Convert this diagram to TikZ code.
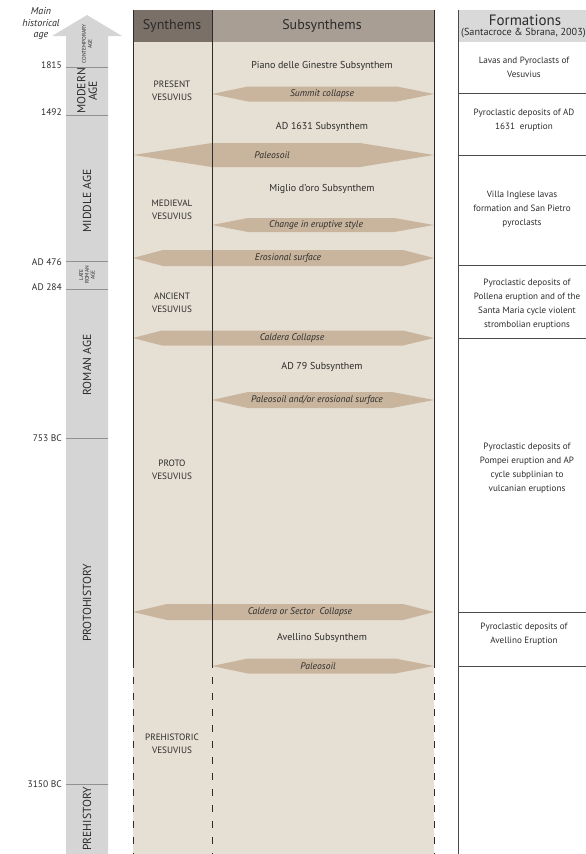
\documentclass[tikz,border=0pt]{standalone}
\usepackage{fontspec}
\setmainfont{PT Sans}
\definecolor{beige}{HTML}{E6DFD3}
\definecolor{bandc}{HTML}{C9B59D}
\definecolor{hsyn}{HTML}{7B7067}
\definecolor{hsub}{HTML}{A89E93}
\definecolor{hform}{HTML}{D9D9D9}
\definecolor{agebar}{HTML}{D5D5D5}
\definecolor{ageline}{HTML}{909090}
\definecolor{ink}{HTML}{2B2B2B}
\newcommand\vband[9]{%
  \fill[bandc] (#3,#1) -- (#4,#1-#2) -- (#5,#1-#2) -- (#6,#1) -- (#5,#1+#2) -- (#4,#1+#2) -- cycle;
  \node[bandtxt] (#9) at (#8,#1) {#7};}
\begin{document}
\begin{tikzpicture}[x=1pt,y=-1pt,
  bandtxt/.style={font=\fontsize{9.6}{10}\selectfont\itshape, text=ink, inner sep=0pt},
  subtxt/.style={font=\fontsize{10}{11}\selectfont, text=ink, inner sep=0pt},
  syntxt/.style={font=\fontsize{9.2}{12.5}\selectfont, text=ink, align=center, inner sep=0pt},
  formtxt/.style={font=\fontsize{9.1}{14}\selectfont, text=ink, align=center, inner sep=0pt},
  agetxt/.style={font=\fontsize{9.5}{10}\selectfont, text=ink, anchor=base east, inner sep=0pt},
  agerot/.style={font=\fontsize{11.6}{11.5}\selectfont, text=ink, rotate=90, align=center, inner sep=0pt},
  agetiny/.style={font=\fontsize{5.4}{5.8}\selectfont, text=ink, rotate=90, align=center, inner sep=0pt},
  panelline/.style={draw=ink, line width=0.9pt},
  paneldash/.style={draw=ink, line width=0.9pt, dash pattern=on 7pt off 9pt},
  formline/.style={draw=ink!85, line width=0.8pt},
  agediv/.style={draw=ageline, line width=0.9pt}]
\useasboundingbox (0,0) rectangle (586,854);

% ---------- historical age column ----------
\fill[agebar] (66,854) -- (66,36) -- (52,36) -- (87,15) -- (122,36) -- (108,36) -- (108,854) -- cycle;
\node[font=\fontsize{10}{11.5}\selectfont\itshape, text=ink, align=center, inner sep=0pt] (mha) at (41,24) {Main\\historical\\age};
\foreach \yy in {67,115,261,289,438,784} \draw[agediv] (66,\yy) -- (108,\yy);
\node[agetxt] (a1815) at (62,68) {1815};
\node[agetxt] (a1492) at (62,115) {1492};
\node[agetxt] (a476) at (62,265) {AD 476};
\node[agetxt] (a284) at (62,290) {AD 284};
\node[agetxt] (a753) at (62,441) {753 BC};
\node[agetxt] (a3150) at (62,787) {3150 BC};
\node[agetiny] (contemp) at (87,44) {CONTEMPORARY\\AGE};
\node[agerot] (modern) at (87,91) {MODERN\\AGE};
\node[agerot] (middle) at (87,201) {MIDDLE AGE};
\node[agetiny] (lateroman) at (87,275) {LATE\\ROMAN\\AGE};
\node[agerot] (roman) at (87,365) {ROMAN AGE};
\node[agerot] (proto) at (87,603) {PROTOHISTORY};
\node[agerot] (prehist) at (87,819) {PREHISTORY};

% ---------- synthems / subsynthems panel ----------
\fill[beige] (133,42) rectangle (434,854);
\fill[hsyn] (133,10) rectangle (212,42);
\fill[hsub] (212,10) rectangle (434,42);
\node[font=\fontsize{14}{14}\selectfont, text=ink, inner sep=0pt] (hS) at (172,26) {Synthems};
\node[font=\fontsize{14}{14}\selectfont, text=ink, inner sep=0pt] (hSS) at (322,26) {Subsynthems};

\vband{94}{7.5}{212}{248}{397}{434}{Summit collapse}{322}{b1}
\vband{155}{12}{133}{212}{360}{434}{Paleosoil}{272}{b2}
\vband{225}{7}{212}{248}{394}{434}{Change in eruptive style}{316}{b3}
\vband{258}{8}{133}{163}{403}{434}{Erosional surface}{288}{b4}
\vband{338}{7.5}{133}{162}{403}{434}{Caldera Collapse}{292}{b5}
\vband{400}{8}{212}{248}{392}{434}{Paleosoil and/or erosional surface}{317}{b6}
\vband{612}{8}{133}{167}{403}{434}{Caldera or Sector\ \ Collapse}{300}{b7}
\vband{666}{7.5}{212}{248}{395}{434}{Paleosoil}{318}{b8}

\foreach \xx in {133,212,434} {
  \draw[panelline] (\xx,10) -- (\xx,668);
  \draw[paneldash] (\xx,677) -- (\xx,854);
}

\node[syntxt] (sPres) at (172,91) {PRESENT\\VESUVIUS};
\node[syntxt] (sMed) at (172,210) {MEDIEVAL\\VESUVIUS};
\node[syntxt] (sAnc) at (172,303) {ANCIENT\\VESUVIUS};
\node[syntxt] (sProto) at (172,470) {PROTO\\VESUVIUS};
\node[syntxt] (sPre) at (172,744) {PREHISTORIC\\VESUVIUS};

\node[subtxt] (ssPiano) at (322,66) {Piano delle Ginestre Subsynthem};
\node[subtxt] (ss1631) at (322,127) {AD 1631 Subsynthem};
\node[subtxt] (ssMiglio) at (322,189) {Miglio d’oro Subsynthem};
\node[subtxt] (ss79) at (322,367) {AD 79 Subsynthem};
\node[subtxt] (ssAv) at (322,638) {Avellino Subsynthem};

% ---------- formations column ----------
\fill[hform] (458,10) rectangle (586,42);
\draw[formline] (458,10) -- (458,854);
\foreach \yy in {93,155,265,338,612,666} \draw[formline] (458,\yy) -- (586,\yy);
\node[font=\fontsize{15}{15}\selectfont, text=ink, inner sep=0pt] (fH) at (525,20) {Formations};
\node[font=\fontsize{10.2}{10}\selectfont, text=ink, anchor=west, inner sep=0pt] (fHs) at (461,33) {(Santacroce \& Sbrana, 2003)};
\node[formtxt] (f1) at (524,67) {Lavas and Pyroclasts of\\Vesuvius};
\node[formtxt] (f2) at (524,120) {Pyroclastic deposits of AD\\1631\ \ eruption};
\node[formtxt] (f3) at (522,209) {Villa Inglese lavas\\formation and San Pietro\\pyroclasts};
\node[formtxt] (f4) at (527,304) {Pyroclastic deposits of\\Pollena eruption and of the\\Santa Maria cycle violent\\strombolian eruptions};
\node[formtxt] (f5) at (527,468) {Pyroclastic deposits of\\Pompei eruption and AP\\cycle subplinian to\\vulcanian eruptions};
\node[formtxt] (f6) at (524,634) {Pyroclastic deposits of\\Avellino Eruption};
\end{tikzpicture}
\end{document}
